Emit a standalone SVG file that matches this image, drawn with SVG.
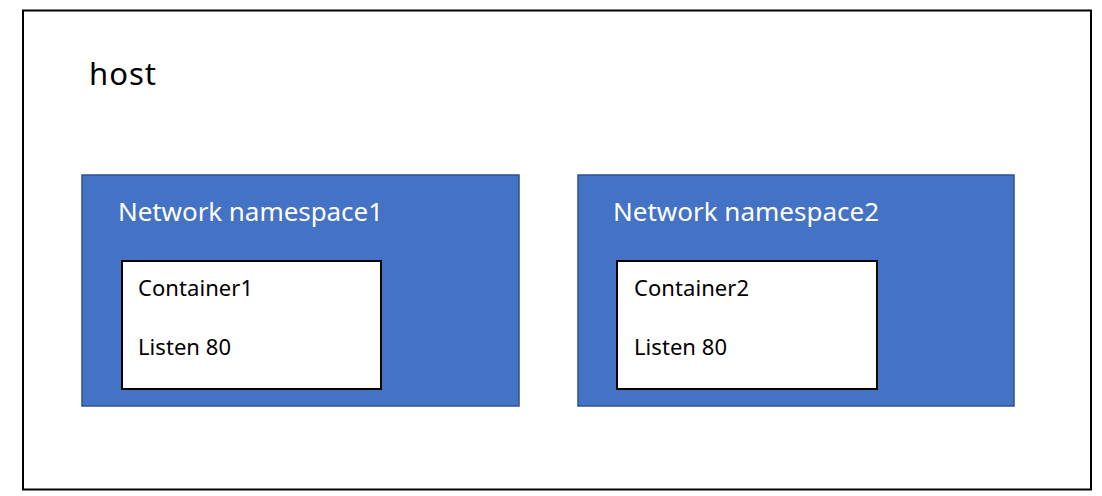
<svg xmlns="http://www.w3.org/2000/svg" width="1102" height="496" viewBox="0 0 1102 496">
<style>
text{font-family:"Noto Sans","Open Sans","DejaVu Sans",sans-serif;}
.ns{fill:#4472C4;stroke:#2F528F;stroke-width:1.5;}
.ct{fill:#FFFFFF;stroke:#000000;stroke-width:2;}
.nst{fill:#FFFFFF;font-size:26px;}
.ctt{fill:#000000;font-size:22px;}
</style>
<g id="host">
<rect x="23" y="10.5" width="1068" height="479" fill="#FFFFFF" stroke="#000000" stroke-width="2"/>
<text x="89" y="85" font-size="31" fill="#000000" textLength="67">host</text>
</g>
<g id="ns1">
<rect class="ns" x="82" y="175" width="437" height="231"/>
<text class="nst" x="118" y="221" textLength="265">Network namespace1</text>
</g>
<g id="ns2">
<rect class="ns" x="578" y="175" width="436" height="231"/>
<text class="nst" x="613" y="221" textLength="266">Network namespace2</text>
</g>
<g id="container1">
<rect class="ct" x="122" y="261" width="259" height="128"/>
<text class="ctt" x="138" y="295.5" textLength="115">Container1</text>
<text class="ctt" x="138" y="354.5" textLength="93">Listen 80</text>
</g>
<g id="container2">
<rect class="ct" x="617" y="261" width="260" height="128"/>
<text class="ctt" x="634" y="295.5" textLength="115">Container2</text>
<text class="ctt" x="634" y="354.5" textLength="93">Listen 80</text>
</g>
<g id="connectors"></g>
</svg>
